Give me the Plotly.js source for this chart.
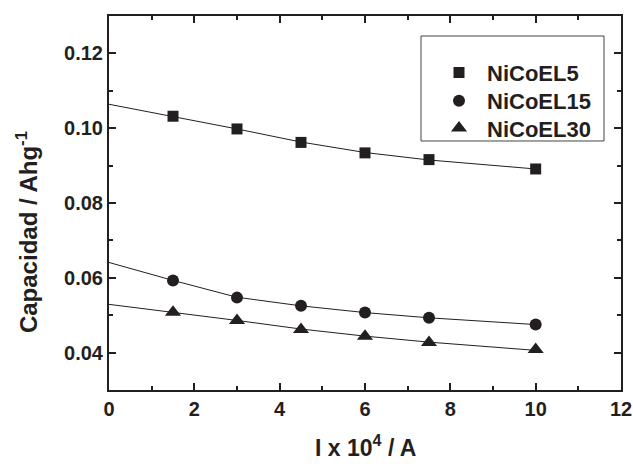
<!DOCTYPE html>
<html>
<head>
<meta charset="utf-8">
<script src="https://cdn.plot.ly/plotly-3.0.1.min.js"></script>
<style>html,body{margin:0;padding:0;background:#fff;}#chart{width:633px;height:464px;}</style>
</head>
<body>
<div id="chart"></div>
<script>
// Measured points
const current = [1.5, 3, 4.5, 6, 7.5, 10];
const capEL5  = [0.1032, 0.0998, 0.0962, 0.0934, 0.0916, 0.0891];
const capEL15 = [0.0593, 0.0547, 0.0525, 0.0507, 0.0493, 0.0475];
const capEL30 = [0.0508, 0.0486, 0.0462, 0.0444, 0.0427, 0.0408];
// Fitted curves
const fitX     = [0, 1.5, 3, 4.5, 6, 7.5, 10];
const fitEL5   = [0.1064, 0.1032, 0.0998, 0.0963, 0.0935, 0.0915, 0.0891];
const fitEL15  = [0.0641, 0.0593, 0.0548, 0.0525, 0.0507, 0.0493, 0.0475];
const fitEL30  = [0.0529, 0.0508, 0.0486, 0.0463, 0.0444, 0.0428, 0.0406];
const seriesNames = ['NiCoEL5', 'NiCoEL15', 'NiCoEL30'];
const xTitle = 'I x 10<sup>4</sup> / A';
const yTitle = 'Capacidad / Ahg<sup>-1</sup>';

const ink = '#231f20';
const font = 'Liberation Sans, Arial, sans-serif';

function fitLine(y) {
  return {x: fitX, y: y, mode: 'lines', type: 'scatter', showlegend: false,
          line: {color: ink, width: 1}, hoverinfo: 'skip'};
}
function pts(y, name, symbol, size, legendId) {
  return {x: current, y: y, mode: 'markers', type: 'scatter', name: name, legend: legendId,
          marker: {symbol: symbol, size: size, color: ink, line: {width: 0}}};
}

const data = [
  fitLine(fitEL5), fitLine(fitEL15), fitLine(fitEL30),
  pts(capEL5, seriesNames[0], 'square', 11, 'legend'),
  pts(capEL15, seriesNames[1], 'circle', 12, 'legend2'),
  pts(capEL30, seriesNames[2], 'triangle-up', 14, 'legend3')
];

const axisCommon = {
  showline: true, linecolor: ink, linewidth: 2, mirror: 'ticks',
  ticks: 'inside', ticklen: 7, tickwidth: 2, tickcolor: ink,
  showgrid: false, zeroline: false,
  tickfont: {family: font, size: 20, color: ink, weight: 'bold'}
};

function legendAt(yTop) {
  return {
    x: 0.6289, y: yTop, xanchor: 'left', yanchor: 'top',
    bgcolor: 'rgba(0,0,0,0)', borderwidth: 0,
    font: {family: font, size: 22, color: ink, weight: 'bold'},
    itemwidth: 46
  };
}

const layout = {
  width: 633, height: 464,
  margin: {l: 109, r: 12, t: 16, b: 74},
  paper_bgcolor: '#fff', plot_bgcolor: '#fff',
  showlegend: true,
  xaxis: Object.assign({}, axisCommon, {
    range: [0, 12], dtick: 2, tick0: 0,
    minor: {dtick: 1, ticks: 'inside', ticklen: 4, tickwidth: 2, tickcolor: ink}
  }),
  yaxis: Object.assign({}, axisCommon, {
    range: [0.03, 0.13], dtick: 0.02, tick0: 0.04, tickformat: '.2f',
    minor: {dtick: 0.01, ticks: 'inside', ticklen: 4, tickwidth: 2, tickcolor: ink}
  }),
  annotations: [
    {text: xTitle, xref: 'paper', yref: 'paper', x: 0.5, y: -0.15,
     xanchor: 'center', yanchor: 'middle', showarrow: false,
     font: {family: font, size: 23, color: ink, weight: 'bold'}},
    {text: yTitle, xref: 'paper', yref: 'paper', x: -0.160, y: 0.4225,
     xanchor: 'center', yanchor: 'middle', showarrow: false, textangle: -90,
     font: {family: font, size: 24, color: ink, weight: 'bold'}}
  ],
  shapes: [
    {type: 'rect', xref: 'paper', yref: 'paper', x0: 0.6094, x1: 0.9668, y0: 0.6658, y1: 0.9465,
     line: {color: '#444', width: 1}, fillcolor: 'rgba(0,0,0,0)'}
  ],
  legend: legendAt(0.9045),
  legend2: legendAt(0.8289),
  legend3: legendAt(0.7559)
};

Plotly.newPlot('chart', data, layout, {displayModeBar: false, staticPlot: true});
</script>
</body>
</html>
